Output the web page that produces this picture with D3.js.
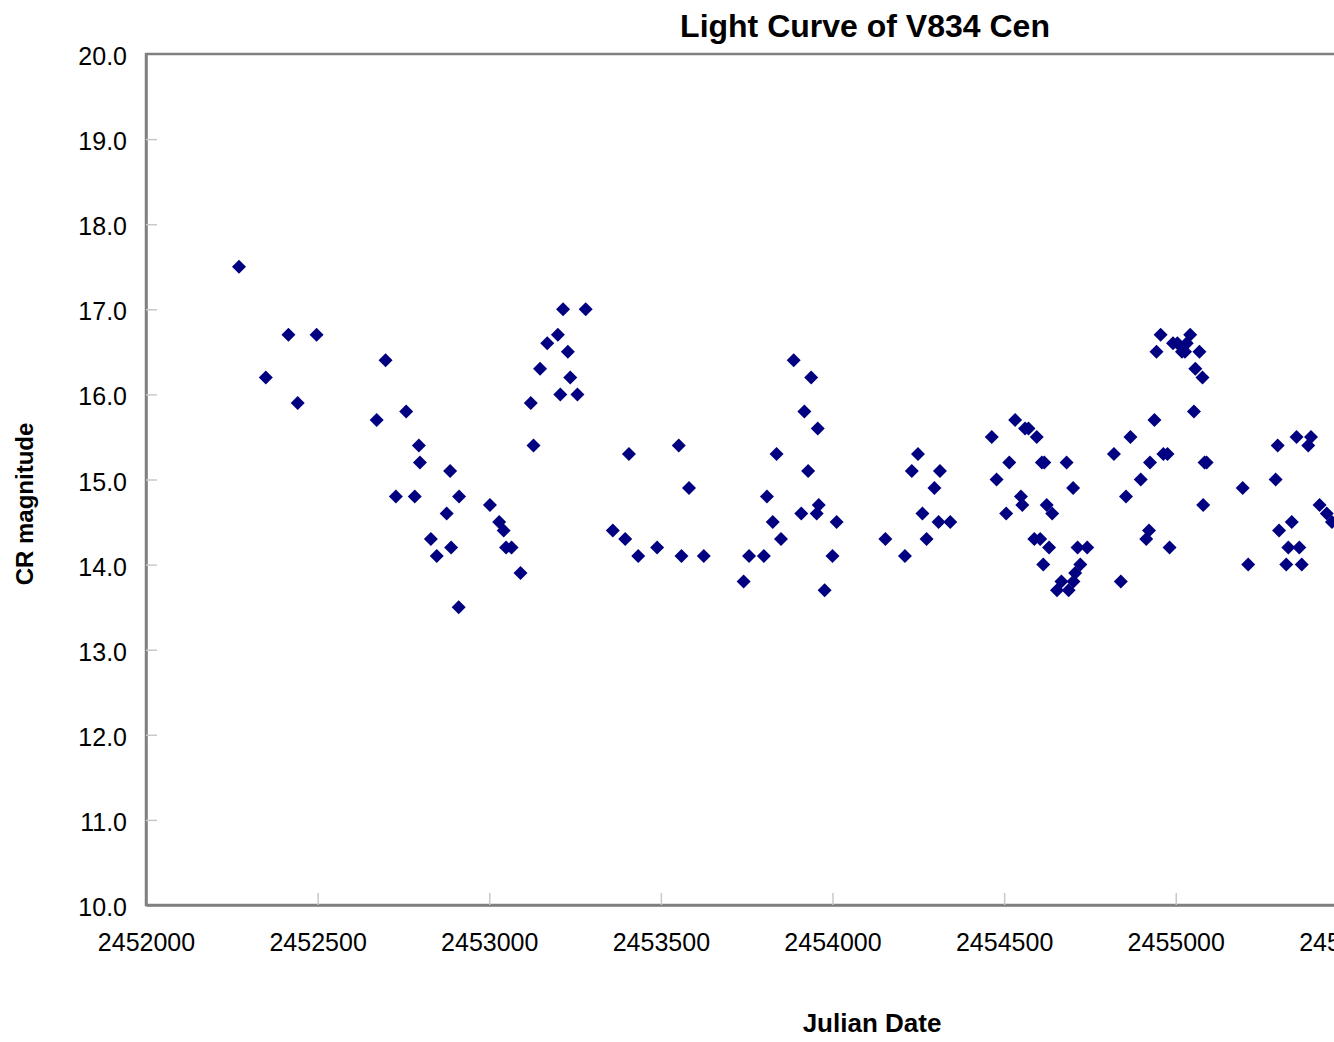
<!DOCTYPE html>
<html>
<head>
<meta charset="utf-8">
<script src="https://cdn.jsdelivr.net/npm/d3@7"></script>
<style>
  body { margin: 0; background: #fff; overflow: hidden; }
  text { font-family: "Liberation Sans", Arial, sans-serif; }
</style>
</head>
<body>
<svg id="chart" width="1334" height="1042"></svg>
<script>
// light curve, values (JD, CR mag)

var jdValues = [
  2452271, 2452349, 2452415, 2452442, 2452497, 2452672, 2452698, 2452728, 2452758, 2452783,
  2452795, 2452798, 2452830, 2452847, 2452876, 2452886, 2452889, 2452911, 2452912, 2453002,
  2453029, 2453042, 2453049, 2453065, 2453091, 2453121, 2453129, 2453148, 2453169, 2453200,
  2453207, 2453215, 2453229, 2453236, 2453257, 2453281, 2453360, 2453396, 2453407, 2453434,
  2453489, 2453552, 2453560, 2453582, 2453625, 2453741, 2453757, 2453800, 2453809, 2453826,
  2453837, 2453850, 2453887, 2453909, 2453918, 2453929, 2453938, 2453954, 2453957, 2453960,
  2453977, 2454000, 2454012, 2454154, 2454211, 2454231, 2454249, 2454262, 2454274, 2454297,
  2454309, 2454313, 2454343, 2454464, 2454478, 2454506, 2454515, 2454532, 2454549, 2454553,
  2454561, 2454571, 2454588, 2454595, 2454605, 2454610, 2454614, 2454617, 2454624, 2454631,
  2454640, 2454654, 2454667, 2454682, 2454688, 2454701, 2454702, 2454707, 2454714, 2454722,
  2454742, 2454820, 2454840, 2454855, 2454868, 2454898, 2454914, 2454922, 2454925, 2454938,
  2454944, 2454956, 2454964, 2454976, 2454982, 2454992, 2455005, 2455018, 2455027, 2455032,
  2455042, 2455053, 2455057, 2455069, 2455078, 2455080, 2455084, 2455090, 2455195, 2455211,
  2455291, 2455297, 2455301, 2455322, 2455328, 2455338, 2455352, 2455360, 2455367, 2455386,
  2455394, 2455419, 2455440, 2455455
];

var magValues = [
  17.5, 16.2, 16.7, 15.9, 16.7, 15.7, 16.4, 14.8, 15.8, 14.8,
  15.4, 15.2, 14.3, 14.1, 14.6, 15.1, 14.2, 13.5, 14.8, 14.7,
  14.5, 14.4, 14.2, 14.2, 13.9, 15.9, 15.4, 16.3, 16.6, 16.7,
  16.0, 17.0, 16.5, 16.2, 16.0, 17.0, 14.4, 14.3, 15.3, 14.1,
  14.2, 15.4, 14.1, 14.9, 14.1, 13.8, 14.1, 14.1, 14.8, 14.5,
  15.3, 14.3, 16.4, 14.6, 15.8, 15.1, 16.2, 14.6, 15.6, 14.7,
  13.7, 14.1, 14.5, 14.3, 14.1, 15.1, 15.3, 14.6, 14.3, 14.9,
  14.5, 15.1, 14.5, 15.5, 15.0, 14.6, 15.2, 15.7, 14.8, 14.7,
  15.6, 15.6, 14.3, 15.5, 14.3, 15.2, 14.0, 15.2, 14.7, 14.2,
  14.6, 13.7, 13.8, 15.2, 13.7, 14.9, 13.8, 13.9, 14.2, 14.0,
  14.2, 15.3, 13.8, 14.8, 15.5, 15.0, 14.3, 14.4, 15.2, 15.7,
  16.5, 16.7, 15.3, 15.3, 14.2, 16.6, 16.6, 16.5, 16.5, 16.6,
  16.7, 15.8, 16.3, 16.5, 16.2, 14.7, 15.2, 15.2, 14.9, 14.0,
  15.0, 15.4, 14.4, 14.0, 14.2, 14.5, 15.5, 14.2, 14.0, 15.4,
  15.5, 14.7, 14.6, 14.5
];

var xTicks = [2452000, 2452500, 2453000, 2453500, 2454000, 2454500, 2455000, 2455500, 2456000];
var yTicks = [10, 11, 12, 13, 14, 15, 16, 17, 18, 19, 20];

var titleText = "Light Curve of V834 Cen";
var xLabel = "Julian Date";
var yLabel = "CR magnitude";

var svg = d3.select("#chart");

var margin = {top: 54, left: 146};
var plotBottom = 905;
var plotRight = 1519;   // plot runs off the right edge of the picture

var x = d3.scaleLinear().domain([2452000, 2456000]).range([margin.left, plotRight]);
var y = d3.scaleLinear().domain([10, 20]).range([plotBottom, margin.top]);

var data = jdValues.map(function(d, i) { return {jd: d, mag: magValues[i]}; });

// plot frame
svg.append("rect")
    .attr("x", margin.left)
    .attr("y", margin.top)
    .attr("width", plotRight - margin.left)
    .attr("height", plotBottom - margin.top)
    .attr("fill", "none")
    .attr("stroke", "#808080")
    .attr("stroke-width", 2.5);

// x axis, ticks point inward
var gx = svg.append("g")
    .attr("transform", "translate(0," + plotBottom + ")")
    .call(d3.axisBottom(x).tickValues(xTicks).tickFormat(d3.format("d"))
      .tickSizeInner(-12).tickSizeOuter(0).tickPadding(28));

// y axis
var gy = svg.append("g")
    .attr("transform", "translate(" + margin.left + ",0)")
    .call(d3.axisLeft(y).tickValues(yTicks).tickFormat(d3.format(".1f"))
      .tickSizeInner(-11).tickSizeOuter(0).tickPadding(19));

[gx, gy].forEach(function(g) {
  g.select(".domain").attr("stroke", "#808080").attr("stroke-width", 2.5);
  g.selectAll(".tick line").attr("stroke", "#c8c8c8").attr("stroke-width", 1.5);
  g.selectAll(".tick text")
      .attr("fill", "#000")
      .style("font-size", "25px")
      .style("font-family", "'Liberation Sans', Arial, sans-serif");
});
gy.selectAll(".tick text").attr("dy", "0.42em");
gx.selectAll(".tick line").filter(function(d) { return d == 2452000; }).remove();
gy.selectAll(".tick line").filter(function(d) { return d == 10 || d == 20; }).remove();

// markers
svg.append("g").selectAll("path.pt")
    .data(data)
    .enter().append("path")
      .attr("class", "pt")
      .attr("d", d3.symbol().type(d3.symbolSquare).size(98))
      .attr("transform", function(d) { return "translate(" + x(d.jd) + "," + y(d.mag) + ") rotate(45)"; })
      .attr("fill", "#000080");

// titles
svg.append("text")
    .attr("x", 865)
    .attr("y", 37)
    .attr("text-anchor", "middle")
    .style("font-size", "32px")
    .style("font-weight", "bold")
    .text(titleText);

svg.append("text")
    .attr("x", 872)
    .attr("y", 1032)
    .attr("text-anchor", "middle")
    .style("font-size", "26px")
    .style("font-weight", "bold")
    .text(xLabel);

svg.append("text")
    .attr("transform", "translate(33,504) rotate(-90)")
    .attr("text-anchor", "middle")
    .style("font-size", "24px")
    .style("font-weight", "bold")
    .text(yLabel);
</script>
</body>
</html>
